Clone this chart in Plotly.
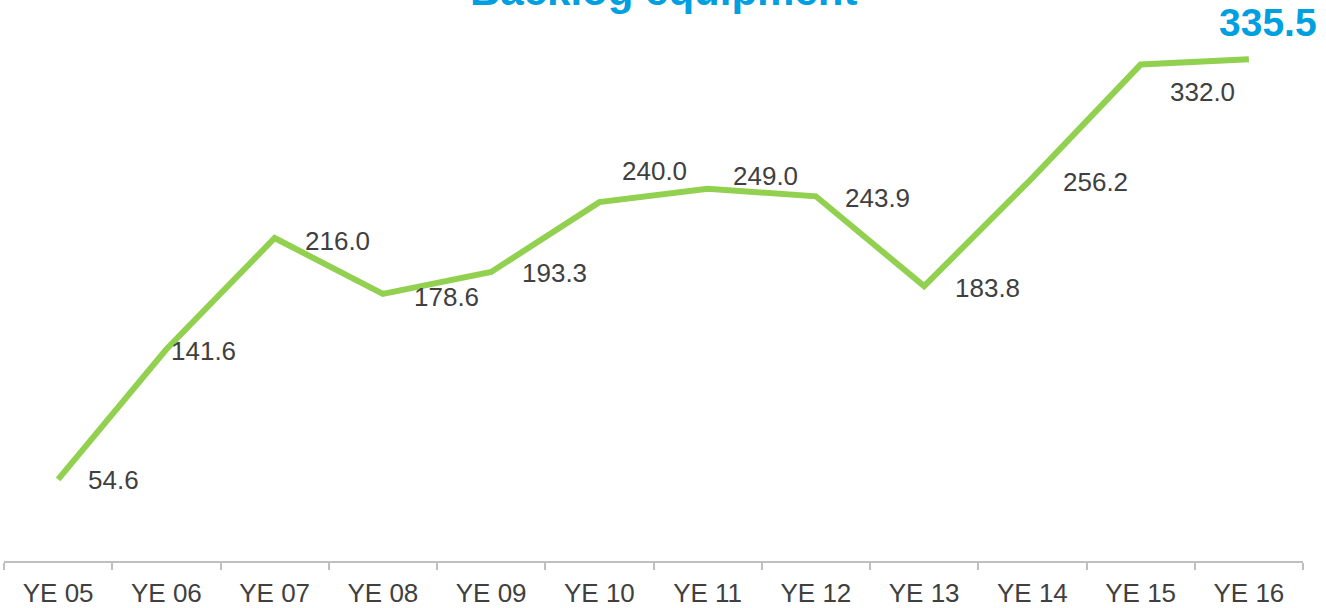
import plotly.graph_objects as go

categories = ["YE 05", "YE 06", "YE 07", "YE 08", "YE 09", "YE 10",
              "YE 11", "YE 12", "YE 13", "YE 14", "YE 15", "YE 16"]
backlog = [54.6, 141.6, 216.0, 178.6, 193.3, 240.0,
           249.0, 243.9, 183.8, 256.2, 332.0, 335.5]
title_text = "Backlog equipment"

# label pixel offsets (styling)
label_shifts = [(55, -1), (37, -2), (63, -3), (64, -3), (63, -1), (55, 31),
                (58, 13), (62, -2), (63, -2), (63, -4), (62, -27), (19, 37)]

GREEN = "#92D050"
BLUE = "#009FDF"
GRAY = "#404040"
FONT = "Liberation Sans, Arial, sans-serif"

fig = go.Figure()
fig.add_trace(go.Scatter(
    x=categories, y=backlog, mode="lines",
    line=dict(color=GREEN, width=6),
    hoverinfo="x+y", showlegend=False,
))

annotations = []
for i, (c, v) in enumerate(zip(categories, backlog)):
    dx, dy = label_shifts[i]
    last = i == len(categories) - 1
    annotations.append(dict(
        x=c, y=v, xref="x", yref="y",
        text=f"<b>{v:.1f}</b>" if last else f"{v:.1f}",
        showarrow=False, xanchor="center", yanchor="middle",
        xshift=dx, yshift=dy,
        font=dict(family=FONT, size=39 if last else 26,
                  color=BLUE if last else GRAY),
    ))

annotations.append(dict(
    x=0.5, y=1, xref="paper", yref="paper", text=f"<b>{title_text}</b>",
    showarrow=False, xanchor="center", yanchor="middle",
    xshift=10, yshift=30,
    font=dict(family=FONT, size=42, color=BLUE),
))

fig.update_layout(
    width=1326, height=608,
    margin=dict(l=4, r=23, t=20, b=47, autoexpand=False),
    paper_bgcolor="white", plot_bgcolor="white",
    annotations=annotations,
    font=dict(family=FONT, color=GRAY),
)
fig.update_xaxes(
    type="category", range=[-0.5, 11.5], automargin=False,
    showline=True, linecolor="#BFBFBF", linewidth=1.5,
    ticks="outside", tickson="boundaries", ticklen=7, tickcolor="#BFBFBF",
    tickwidth=1.5, ticklabelstandoff=8,
    showgrid=False, zeroline=False,
    tickfont=dict(family=FONT, size=26, color=GRAY),
)
fig.update_yaxes(
    range=[0, 361.8], visible=False, showgrid=False, zeroline=False,
    automargin=False,
)

fig.write_html("out.html",
               config={"displayModeBar": False},
               post_script="document.body.style.margin='0';"
                           "document.body.style.overflow='hidden';")
